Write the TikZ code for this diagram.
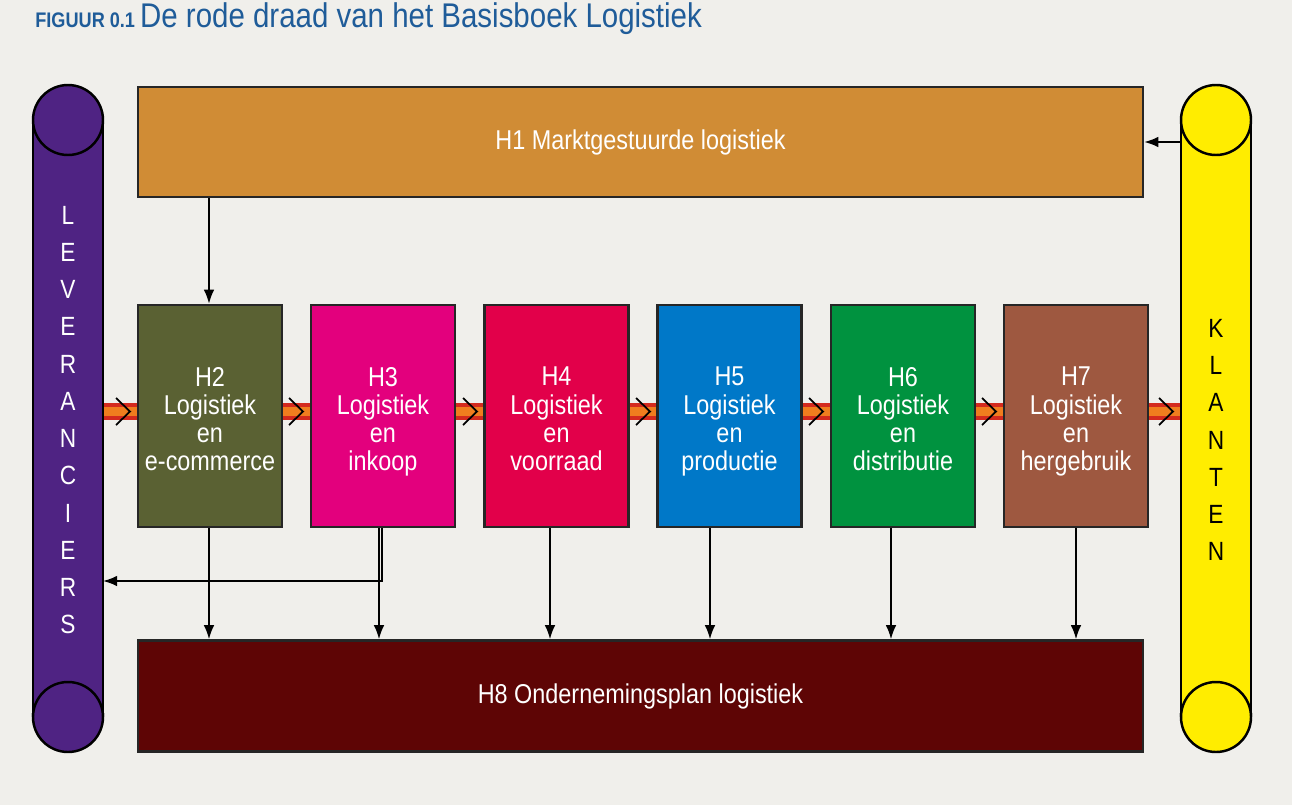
\documentclass[tikz,border=0pt]{standalone}
\usepackage{fontspec}
\setmainfont{Liberation Sans}[FakeStretch=0.86]
\usetikzlibrary{arrows.meta}
\definecolor{bg}{HTML}{F0EFEB}
\definecolor{cH1}{HTML}{D08C35}
\definecolor{cH2}{HTML}{5A6133}
\definecolor{cH3}{HTML}{E3007D}
\definecolor{cH4}{HTML}{E2004A}
\definecolor{cH5}{HTML}{0078C8}
\definecolor{cH6}{HTML}{00923F}
\definecolor{cH7}{HTML}{9E5840}
\definecolor{cH8}{HTML}{5E0505}
\definecolor{cpur}{HTML}{4F2383}
\definecolor{cyel}{HTML}{FFED00}
\definecolor{ctitle}{HTML}{1F5C99}
\definecolor{corange}{HTML}{F07D1E}
\definecolor{cred}{HTML}{D42A1E}
\begin{document}
\begin{tikzpicture}[x=0.02cm,y=-0.02cm,
  box/.style={draw=black!85,line width=1.4pt,text=white,align=center,font=\fontsize{15.5}{16}\selectfont},
  lab/.style={text=white,align=center,font=\fontsize{15.5}{16}\selectfont},
  arr/.style={-{Latex[length=8pt,width=6pt]},line width=1pt},
  chev/.style={line width=1pt}]
\fill[bg] (0,0) rectangle (1292,805);
\useasboundingbox (0,0) rectangle (1292,805);
\node[anchor=west,text=ctitle,inner sep=0] (title) at (35,19) {\fontsize{12}{14}\selectfont\bfseries FIGUUR 0.1\ \fontsize{19.5}{22}\selectfont\mdseries De rode draad van het Basisboek Logistiek};
% orange band
\foreach \a/\b in {103/138,282/311,455/485,628/658,801/831,975/1004,1148/1181}{
  \fill[cred] (\a,403) rectangle (\b,420);
  \fill[corange] (\a,407) rectangle (\b,416);
  \draw[chev] (\b-22,398) -- (\b-8,411.5) -- (\b-22,425);
}
% cylinders
\foreach \cx/\c in {68/cpur,1216/cyel}{
  \draw[line width=1.4pt,fill=\c] (\cx,717) circle (35);
  \fill[\c] (\cx-35,120) rectangle (\cx+35,717);
  \draw[line width=1.4pt] (\cx-35,120) -- (\cx-35,717) (\cx+35,120) -- (\cx+35,717);
  \draw[line width=1.4pt] (\cx-35,717) arc (180:360:35);
  \draw[line width=1.4pt,fill=\c] (\cx,120) circle (35);
}
\node[text=white,align=center,font=\fontsize{15}{21.2}\selectfont] (lev) at (68,420) {L\\E\\V\\E\\R\\A\\N\\C\\I\\E\\R\\S};
\node[text=black,align=center,font=\fontsize{15}{21.2}\selectfont] (kla) at (1216,440) {K\\L\\A\\N\\T\\E\\N};
\coordinate (levR) at (103,581);
\coordinate (klaL) at (1181,142);
% boxes
\node[box,fill=cH1,minimum width=1005*0.02cm,minimum height=110*0.02cm] (h1) at (640.5,142) {H1 Marktgestuurde logistiek};
\node[box,fill=cH8,minimum width=1005*0.02cm,minimum height=111*0.02cm] (h8) at (640.5,696) {H8 Ondernemingsplan logistiek};
\foreach \n/\k/\x/\c/\t in {h2/2/210/cH2/{e-commerce},h3/3/383/cH3/inkoop,h4/4/556.5/cH4/voorraad,h5/5/729.5/cH5/productie,h6/6/903/cH6/distributie,h7/7/1076/cH7/hergebruik}{
  \node[box,fill=\c,minimum width=144*0.02cm,minimum height=222*0.02cm] (\n) at (\x,416) {};
  \node[lab,anchor=north] (\n t) at (\x,361) {H\k\\Logistiek\\en\\\t};
}
% arrows
\draw[arr] (klaL) -- (klaL -| h1.east);
\draw[arr] (h1.south -| 209,0) -- (h2.north -| 209,0);
\foreach \n/\x in {h2/209,h3/379,h4/550,h5/710,h6/891,h7/1076}{
  \draw[arr] (\n.south -| \x,0) -- (h8.north -| \x,0);
}
\draw[arr] (h3.south -| 382,0) -- (382,581) -- (levR);
\end{tikzpicture}
\end{document}
